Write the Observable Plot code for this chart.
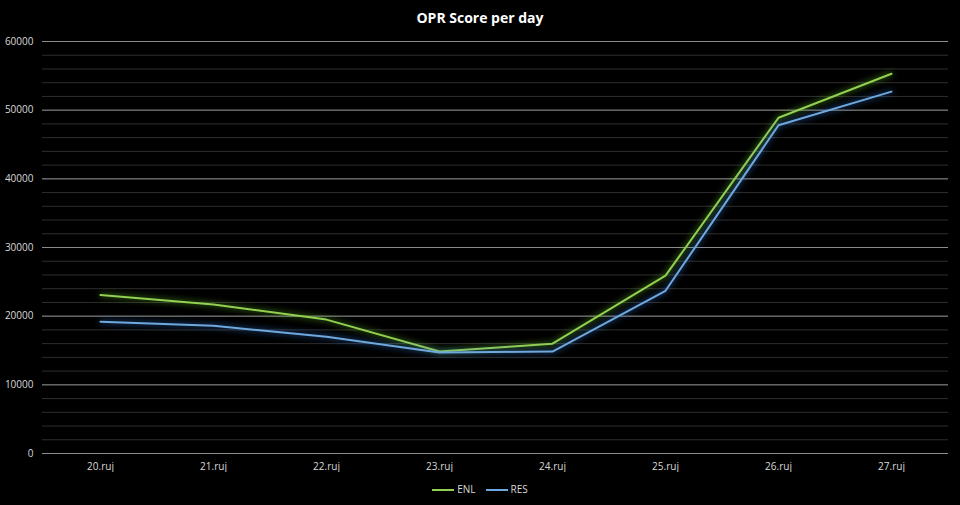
<!DOCTYPE html>
<html><head><meta charset="utf-8">
<script src="https://cdn.jsdelivr.net/npm/d3@7"></script>
<script src="https://cdn.jsdelivr.net/npm/@observablehq/plot@0.6"></script>
<style>
body{margin:0;background:#000;width:960px;height:505px;overflow:hidden;font-family:"Open Sans","Noto Sans",sans-serif;}
#title{height:32px;line-height:36px;text-align:center;color:#fff;font-weight:bold;font-size:14px;}
#legend{height:33px;display:flex;justify-content:center;align-items:center;gap:10px;color:#d9d9d9;font-size:10px;}
#legend span.k{display:inline-block;width:22px;height:2px;margin-right:3px;vertical-align:middle;}
.glowENL{filter:drop-shadow(0 0 3px rgba(120,220,40,0.8));}
.glowRES{filter:drop-shadow(0 0 3px rgba(60,140,255,0.8));}
</style></head>
<body>
<div id="title">OPR Score per day</div>
<div id="chart"></div>
<div id="legend"></div>
<script>
const days = ["20.ruj","21.ruj","22.ruj","23.ruj","24.ruj","25.ruj","26.ruj","27.ruj"];
const enl = [23100, 21700, 19500, 14850, 16000, 25900, 48900, 55300];
const res = [19200, 18600, 17000, 14700, 14850, 23700, 47800, 52700];
const seriesNames = ["ENL", "RES"];
const seriesColors = ["#92d050", "#6fa8dc"];
const yTicks = [0, 10000, 20000, 30000, 40000, 50000, 60000];
const yMinor = d3.range(0, 60001, 2000);

const rows = s => days.map((d, i) => ({day: d, value: s[i]}));

const chart = Plot.plot({
  width: 960, height: 440,
  marginTop: 9, marginBottom: 19, marginLeft: 42, marginRight: 12,
  style: {background: "#000", color: "#d9d9d9", fontSize: "10px", fontFamily: "'Open Sans','Noto Sans',sans-serif"},
  x: {type: "point", domain: days, padding: 0.5, label: null, tickSize: 0, tickPadding: 9},
  y: {domain: [0, 60000], ticks: yTicks, tickFormat: d => String(d), label: null, tickSize: 0, tickPadding: 9},
  marks: [
    Plot.ruleY(yMinor, {stroke: "#2e2e2e", strokeWidth: 1}),
    Plot.ruleY(yTicks, {stroke: "#8a8a8a", strokeWidth: 1}),
    Plot.lineY(rows(enl), {x: "day", y: "value", stroke: seriesColors[0], strokeWidth: 2, className: "glowENL"}),
    Plot.lineY(rows(res), {x: "day", y: "value", stroke: seriesColors[1], strokeWidth: 2, className: "glowRES"})
  ]
});
document.getElementById("chart").appendChild(chart);

const lg = document.getElementById("legend");
seriesNames.forEach((n, i) => {
  const el = document.createElement("div");
  el.innerHTML = `<span class="k" style="background:${seriesColors[i]}"></span>${n}`;
  lg.appendChild(el);
});
</script>
</body></html>
